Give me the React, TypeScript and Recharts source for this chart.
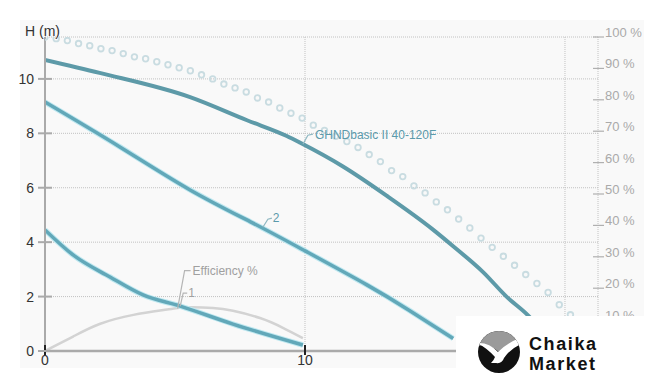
import React from 'react';
import { LineChart, Line, XAxis, YAxis, CartesianGrid, ReferenceDot } from 'recharts';

// Main curve "GHNDbasic II 40-120F" (H in m vs Q)
const mainQ = [0, 2.1, 5.58, 7.77, 9.3, 9.8, 11.46, 13.15, 14.9, 15.7, 16.85, 17.75, 18.56, 19.4];
const mainH = [10.7, 10.22, 9.33, 8.48, 7.9, 7.66, 6.78, 5.7, 4.48, 3.85, 2.9, 2.0, 1.33, 0.45];

// Curve 2
const c2Q = [0, 2.88, 5.58, 8.0, 10, 12.38, 14.0, 15.7];
const c2H = [9.15, 7.5, 5.92, 4.7, 3.68, 2.43, 1.5, 0.46];

// Curve 1
const c1Q = [0, 1.08, 2.5, 3.77, 5.2, 7.23, 9.92];
const c1H = [4.45, 3.53, 2.72, 2.06, 1.65, 0.99, 0.22];

// Efficiency % (right axis)
const effQ = [0, 1.08, 2.1, 3.4, 4.7, 5.45, 6.46, 7.23, 8.27, 9.15, 9.92];
const effP = [0, 4.6, 8.6, 11.5, 13.2, 13.9, 13.7, 12.8, 10.5, 7.4, 4.1];

// Dotted (circles) curve
const dotQ = [0, 0.43, 0.86, 1.29, 1.72, 2.15, 2.58, 3.01, 3.44, 3.87, 4.3, 4.73, 5.16, 5.59, 6.02, 6.45,
  6.88, 7.31, 7.74, 8.17, 8.6, 9.03, 9.46, 9.89, 10.32, 10.75, 11.18, 11.61, 12.04, 12.47, 12.9, 13.33,
  13.76, 14.19, 14.62, 15.05, 15.48, 15.91, 16.34, 16.77, 17.2, 17.63, 18.06, 18.49, 18.92, 19.35, 19.78, 20.21];
const dotH = [11.54, 11.48, 11.41, 11.3, 11.22, 11.11, 11.04, 10.93, 10.81, 10.74, 10.63, 10.52, 10.41, 10.3,
  10.15, 10.0, 9.81, 9.67, 9.52, 9.3, 9.15, 8.93, 8.74, 8.56, 8.3, 8.11, 7.89, 7.7, 7.48, 7.22, 6.96, 6.63,
  6.41, 6.07, 5.81, 5.48, 5.19, 4.85, 4.52, 4.15, 3.81, 3.48, 3.15, 2.81, 2.48, 2.15, 1.7, 1.33];

const xTicks = [0, 10, 20];
const xLabelled = [0, 10];
const hTicks = [0, 2, 4, 6, 8, 10];
const pTicks = [10, 20, 30, 40, 50, 60, 70, 80, 90, 100];

const zip = (xs: number[], ys: number[]) => xs.map((x, i) => ({ x, y: ys[i] }));
const mainData = zip(mainQ, mainH);
const c2Data = zip(c2Q, c2H);
const c1Data = zip(c1Q, c1H);
const effData = zip(effQ, effP);
const dotData = zip(dotQ, dotH);

const FONT = '"Liberation Sans", Arial, sans-serif';

const LeftTick = ({ x, y, payload }: any) => (
  <g>
    <line x1={x - 7} x2={x + 7} y1={y} y2={y} stroke="#aaa" strokeWidth={2} />
    <text x={x - 11} y={y + 5} textAnchor="end" fontSize={14} fill="#333" fontFamily={FONT}>
      {payload.value}
    </text>
  </g>
);

const RightTick = ({ x, y, payload }: any) => (
  <g>
    <line x1={x - 5} x2={x + 6} y1={y} y2={y} stroke="#b0b0b0" strokeWidth={1.2} />
    <text x={x + 7} y={y} fontSize={13} fill="#aaa" fontFamily={FONT}>
      {payload.value} %
    </text>
  </g>
);

const BottomTick = ({ x, y, payload }: any) => (
  <g>
    <line x1={x} x2={x} y1={y - 6} y2={y + 4} stroke="#222" strokeWidth={2} />
    {xLabelled.includes(payload.value) && (
      <text x={x} y={y + 14} textAnchor="middle" fontSize={14} fill="#333" fontFamily={FONT}>
        {payload.value}
      </text>
    )}
  </g>
);

const leaderLabel = (text: string, path: string, tdx: number, tdy: number, color: string, lineColor: string) =>
  (props: any) => {
    const { cx, cy } = props;
    if (cx == null || cy == null) return <g />;
    return (
      <g transform={`translate(${cx},${cy})`}>
        <path d={path} fill="none" stroke={lineColor} strokeWidth={1.2} />
        <text x={tdx} y={tdy} fontSize={12} fill={color} fontFamily={FONT}>
          {text}
        </text>
      </g>
    );
  };

const App = () => (
  <div style={{ position: 'absolute', left: 0, top: 0, width: 661, height: 389, background: '#fff', overflow: 'hidden' }}>
    <div style={{ position: 'absolute', left: 20, top: 20, width: 624, height: 348, background: '#f9f9f9' }} />
    <div style={{ position: 'absolute', left: 0, top: 0 }}>
      <LineChart width={661} height={389} margin={{ top: 37, right: 0, bottom: 0, left: 0 }}>
        <CartesianGrid yAxisId="left" stroke="#c2c2c2" strokeDasharray="1 1" />
        <XAxis
          type="number"
          dataKey="x"
          domain={[0, 21.27]}
          ticks={xTicks}
          allowDataOverflow
          height={38}
          tickSize={0}
          tickMargin={0}
          tickLine={false}
          axisLine={{ stroke: '#aaa', strokeWidth: 2.5 }}
          tick={<BottomTick />}
          interval={0}
        />
        <YAxis
          yAxisId="left"
          type="number"
          domain={[0, 11.54]}
          ticks={hTicks}
          allowDataOverflow
          width={45}
          tickSize={0}
          tickMargin={0}
          tickLine={false}
          axisLine={{ stroke: '#aaa', strokeWidth: 2 }}
          tick={<LeftTick />}
          interval={0}
          label={{
            content: (p: any) => (
              <text x={(p.viewBox?.x ?? 0) + 25} y={(p.viewBox?.y ?? 37) - 1} fontSize={14} fill="#333" fontFamily={FONT}>
                H (m)
              </text>
            ),
          }}
        />
        <YAxis
          yAxisId="right"
          orientation="right"
          type="number"
          domain={[0, 100]}
          ticks={pTicks}
          allowDataOverflow
          width={63}
          tickSize={0}
          tickMargin={0}
          tickLine={false}
          axisLine={false}
          tick={<RightTick />}
          interval={0}
        />
        <Line yAxisId="right" data={effData} dataKey="y" type="natural" stroke="#d3d3d3" strokeWidth={2.5}
          dot={false} activeDot={false} isAnimationActive={false} />
        <Line yAxisId="left" data={dotData} dataKey="y" type="linear" stroke="none"
          dot={{ r: 2.8, stroke: '#c9dce1', strokeWidth: 1.8, fill: 'none' }} activeDot={false} isAnimationActive={false} />
        <Line yAxisId="left" data={c1Data} dataKey="y" type="monotone" stroke="#bfe8f0" strokeWidth={5.5}
          dot={false} activeDot={false} isAnimationActive={false} />
        <Line yAxisId="left" data={c1Data} dataKey="y" type="monotone" stroke="#62a8b9" strokeWidth={3.5}
          dot={false} activeDot={false} isAnimationActive={false} />
        <Line yAxisId="left" data={c2Data} dataKey="y" type="natural" stroke="#bfe8f0" strokeWidth={5.5}
          dot={false} activeDot={false} isAnimationActive={false} />
        <Line yAxisId="left" data={c2Data} dataKey="y" type="natural" stroke="#62a8b9" strokeWidth={3.5}
          dot={false} activeDot={false} isAnimationActive={false} />
        <Line yAxisId="left" data={mainData} dataKey="y" type="monotone" stroke="#5d9aa8" strokeWidth={4}
          dot={false} activeDot={false} isAnimationActive={false} />
        <ReferenceDot yAxisId="left" x={9.92} y={7.6} r={0} ifOverflow="visible"
          shape={leaderLabel('GHNDbasic II 40-120F', 'M0,0 L5,-9 L10,-10', 12, -5, '#5b9aab', '#8fb8c2')} />
        <ReferenceDot yAxisId="left" x={8.38} y={4.55} r={0} ifOverflow="visible"
          shape={leaderLabel('2', 'M0,0 L5,-8 L9,-9', 10, -5, '#5b9aab', '#8fb8c2')} />
        <ReferenceDot yAxisId="right" x={5.1} y={13.5} r={0} ifOverflow="visible"
          shape={leaderLabel('Efficiency %', 'M0,0 L7,-38 L13,-38', 15, -34, '#a0a0a0', '#b5b5b5')} />
        <ReferenceDot yAxisId="left" x={5.2} y={1.65} r={0} ifOverflow="visible"
          shape={leaderLabel('1', 'M0,0 L3,-13 L7,-13', 8, -9, '#a0a0a0', '#b5b5b5')} />
      </LineChart>
    </div>
    <div style={{ position: 'absolute', left: 456, top: 316, width: 205, height: 73, background: '#fff' }}>
      <svg width={205} height={73} style={{ position: 'absolute', left: 0, top: 0 }}>
        <defs>
          <clipPath id="logoClip">
            <circle cx={43} cy={36} r={21} />
          </clipPath>
        </defs>
        <circle cx={43} cy={36} r={21} fill="#111" />
        <g clipPath="url(#logoClip)">
          <path d="M20,14 L66,14 L66,26 Q50,30 43,36 Q34,28 20,30 Z" fill="#9a9a9a" />
          <path d="M21,27 Q33,26 42,36 Q51,27 66,21 L65,28 Q54,33 48,42 Q46,48 40,47 L35,47 Q38,44 39,41 Q31,32 21,27 Z" fill="#fff" />
        </g>
        <text x={73} y={34} fontSize={18} fontWeight="bold" fill="#111" fontFamily={FONT} letterSpacing={1.6}>Chaika</text>
        <text x={73} y={54} fontSize={18} fontWeight="bold" fill="#111" fontFamily={FONT} letterSpacing={1.6}>Market</text>
      </svg>
    </div>
  </div>
);

export default App;
